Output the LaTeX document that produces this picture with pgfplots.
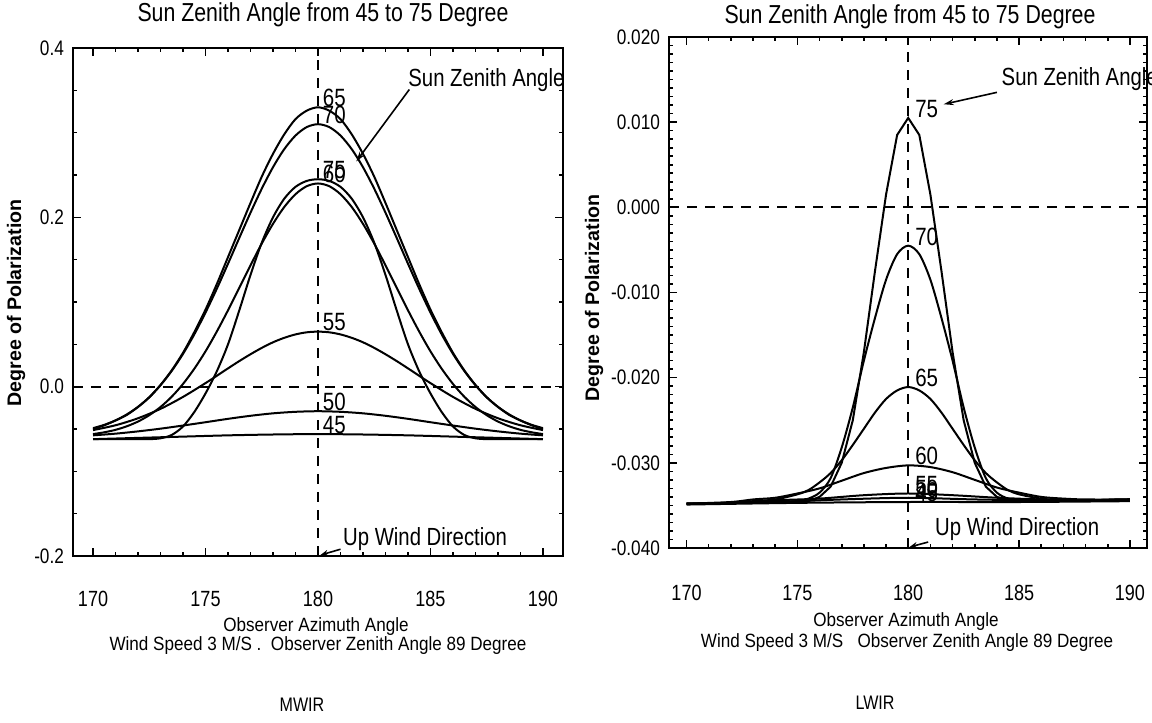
\documentclass[border=0pt]{standalone}
\usepackage{fontspec}
\setmainfont{Liberation Sans}
\newfontfamily\fN[FakeStretch=0.82]{Liberation Sans}
\newfontfamily\fL[FakeStretch=0.89]{Liberation Sans}
\usepackage{pgfplots}
\pgfplotsset{compat=1.18}
\usetikzlibrary{arrows.meta}

\pgfplotsset{
  idl/.style={
    scale only axis, clip=false, anchor=south west,
    axis line style={line width=1.1pt},
    tick align=inside,
    major tick length=4pt, minor tick length=2pt,
    tick style={black, line width=0.8pt},
    xtick={170,175,180,185,190},
    xticklabels={170,175,180,185,190},
    minor x tick num=4,
    scaled y ticks=false,
    yticklabel style={font=\fN\fontsize{10.5}{10.5}\selectfont, xshift=-1pt},
  },
}
\tikzset{
  crv/.style={black, line width=1pt, mark=none},
  vline/.style={black, line width=1pt, dash pattern=on 5pt off 4pt},
  num/.style={anchor=south west, inner sep=0pt, font=\fN\fontsize{12.5}{12.5}\selectfont},
  note/.style={inner sep=0pt, font=\fN\fontsize{12.4}{12.4}\selectfont},
  lab/.style={inner sep=0pt, font=\fL\fontsize{9.6}{9.6}\selectfont},
}

\begin{document}
\begin{tikzpicture}
\path[use as bounding box] (0,0) rectangle (576pt,361.5pt);

% ---------------- MWIR ----------------
\begin{axis}[idl,
  at={(36.5pt,83.5pt)}, width=245pt, height=254pt,
  xmin=169.11, xmax=190.89, ymin=-0.2, ymax=0.4,
  ytick={-0.2,0,0.2,0.4}, yticklabels={-0.2,0.0,0.2,0.4},
  minor y tick num=3,
  xticklabel style={font=\fN\fontsize{11}{11}\selectfont, yshift=-14pt},
]
\addplot[crv, smooth] coordinates {
 (170,-0.0500) (170.5,-0.0456) (171,-0.0400) (171.5,-0.0334) (172,-0.0240) (172.5,-0.0127)
 (173,0.0020) (173.5,0.0194) (174,0.0400) (174.5,0.0643) (175,0.0910) (175.5,0.1210)
 (176,0.1530) (176.5,0.1850) (177,0.2170) (177.5,0.2480) (178,0.2750) (178.5,0.2980)
 (179,0.3160) (179.5,0.3260) (180,0.3300)
 (180.5,0.3260) (181,0.3160) (181.5,0.2980) (182,0.2750) (182.5,0.2480) (183,0.2170)
 (183.5,0.1850) (184,0.1530) (184.5,0.1210) (185,0.0910) (185.5,0.0643) (186,0.0400)
 (186.5,0.0194) (187,0.0020) (187.5,-0.0127) (188,-0.0240) (188.5,-0.0334) (189,-0.0400)
 (189.5,-0.0456) (190,-0.0500)};
\addplot[crv, smooth] coordinates {
 (170,-0.0490) (170.5,-0.0451) (171,-0.0398) (171.5,-0.0328) (172,-0.0238) (172.5,-0.0124)
 (173,0.0017) (173.5,0.0187) (174,0.0387) (174.5,0.0617) (175,0.0875) (175.5,0.1155)
 (176,0.1452) (176.5,0.1756) (177,0.2055) (177.5,0.2338) (178,0.2592) (178.5,0.2805)
 (179,0.2966) (179.5,0.3066) (180,0.3100)
 (180.5,0.3066) (181,0.2966) (181.5,0.2805) (182,0.2592) (182.5,0.2338) (183,0.2055)
 (183.5,0.1756) (184,0.1452) (184.5,0.1155) (185,0.0875) (185.5,0.0617) (186,0.0387)
 (186.5,0.0187) (187,0.0017) (187.5,-0.0124) (188,-0.0238) (188.5,-0.0328) (189,-0.0398)
 (189.5,-0.0451) (190,-0.0490)};
\addplot[crv, smooth] coordinates {
 (170,-0.0560) (170.5,-0.0539) (171,-0.0510) (171.5,-0.0468) (172,-0.0412) (172.5,-0.0337)
 (173,-0.0240) (173.5,-0.0118) (174,0.0032) (174.5,0.0211) (175,0.0417) (175.5,0.0650)
 (176,0.0902) (176.5,0.1166) (177,0.1433) (177.5,0.1690) (178,0.1923) (178.5,0.2122)
 (179,0.2273) (179.5,0.2368) (180,0.2400)
 (180.5,0.2368) (181,0.2273) (181.5,0.2122) (182,0.1923) (182.5,0.1690) (183,0.1433)
 (183.5,0.1166) (184,0.0902) (184.5,0.0650) (185,0.0417) (185.5,0.0211) (186,0.0032)
 (186.5,-0.0118) (187,-0.0240) (187.5,-0.0337) (188,-0.0412) (188.5,-0.0468) (189,-0.0510)
 (189.5,-0.0539) (190,-0.0560)};
\addplot[crv, smooth] coordinates {
 (170,-0.0620) (172,-0.0620) (172.5,-0.0620) (173,-0.0610) (173.5,-0.0570) (174,-0.0470)
 (174.5,-0.0300) (175,-0.0080) (175.5,0.0180) (176,0.0500) (176.5,0.0900) (177,0.1320)
 (177.5,0.1700) (178,0.2000) (178.5,0.2220) (179,0.2360) (179.5,0.2430) (180,0.2450)
 (180.5,0.2430) (181,0.2360) (181.5,0.2220) (182,0.2000) (182.5,0.1700) (183,0.1320)
 (183.5,0.0900) (184,0.0500) (184.5,0.0180) (185,-0.0080) (185.5,-0.0300) (186,-0.0470)
 (186.5,-0.0570) (187,-0.0610) (187.5,-0.0620) (188,-0.0620) (190,-0.0620)};
\addplot[crv, smooth] coordinates {
 (170,-0.0513) (171,-0.0456) (172,-0.0373) (173,-0.0262) (174,-0.0121) (175,0.0042)
 (175.5,0.0128) (176,0.0216) (176.5,0.0302) (177,0.0383) (177.5,0.0458) (178,0.0524)
 (178.5,0.0577) (179,0.0617) (179.5,0.0642) (180,0.0650)
 (180.5,0.0642) (181,0.0617) (181.5,0.0577) (182,0.0524) (182.5,0.0458) (183,0.0383)
 (183.5,0.0302) (184,0.0216) (184.5,0.0128) (185,0.0042) (186,-0.0121) (187,-0.0262)
 (188,-0.0373) (189,-0.0456) (190,-0.0513)};
\addplot[crv, smooth] coordinates {
 (170,-0.0575) (171,-0.0555) (172,-0.0528) (173,-0.0496) (174,-0.0459) (175,-0.0420)
 (176,-0.0380) (177,-0.0344) (178,-0.0315) (179,-0.0297) (180,-0.0290) (181,-0.0297)
 (182,-0.0315) (183,-0.0344) (184,-0.0380) (185,-0.0420) (186,-0.0459) (187,-0.0496)
 (188,-0.0528) (189,-0.0555) (190,-0.0575)};
\addplot[crv, smooth] coordinates {
 (170,-0.0620) (172,-0.0605) (174,-0.0590) (176,-0.0575) (178,-0.0565) (180,-0.0560)
 (182,-0.0565) (184,-0.0575) (186,-0.0590) (188,-0.0605) (190,-0.0620)};

\draw[vline] (axis cs:180,-0.2) -- (axis cs:180,0.4);
\draw[vline] (axis cs:169.11,0) -- (axis cs:190.89,0);

\node[num] at (axis cs:180.2,0.330) {65};
\node[num] at (axis cs:180.2,0.310) {70};
\node[num] at (axis cs:180.2,0.245) {75};
\node[num] at (axis cs:180.2,0.240) {60};
\node[num] at (axis cs:180.2,0.065) {55};
\node[num] at (axis cs:180.2,-0.029) {50};
\node[num] at (axis cs:180.2,-0.056) {45};

\node[note, anchor=west] at (axis cs:184.0,0.362) {Sun Zenith Angle};
\draw[line width=0.8pt, -{Stealth[length=5pt,width=3pt]}] (axis cs:184.06,0.351) -- (axis cs:181.7,0.266);
\node[note, anchor=west] at (axis cs:181.1,-0.180) {Up Wind Direction};
\draw[line width=0.8pt, -{Stealth[length=4pt,width=3pt]}] (axis cs:181.0,-0.192) -- (axis cs:180.1,-0.199);
\end{axis}

% ---------------- LWIR ----------------
\begin{axis}[idl,
  at={(334.5pt,87.5pt)}, width=239pt, height=255.5pt,
  xmin=169.21, xmax=190.77, ymin=-0.04, ymax=0.02,
  ytick={-0.04,-0.03,-0.02,-0.01,0,0.01,0.02},
  yticklabels={-0.040,-0.030,-0.020,-0.010,0.000,0.010,0.020},
  minor y tick num=9,
  xticklabel style={font=\fN\fontsize{11}{11}\selectfont, yshift=-15pt},
]
\addplot[crv, sharp plot] coordinates {
 (170,-0.0348) (172,-0.0347) (174,-0.0346) (175,-0.0345) (175.5,-0.0345) (176,-0.0340)
 (176.5,-0.0328) (177,-0.0300) (177.5,-0.0250) (178,-0.0170) (178.5,-0.0075) (179,0.0015)
 (179.5,0.0085) (180,0.0105) (180.5,0.0085) (181,0.0015) (181.5,-0.0075) (182,-0.0170)
 (182.5,-0.0250) (183,-0.0300) (183.5,-0.0328) (184,-0.0340) (184.5,-0.0344) (186,-0.0345)
 (188,-0.0344) (190,-0.0343)};
\addplot[crv, smooth] coordinates {
 (170,-0.0348) (172,-0.0347) (174,-0.0346) (175,-0.0345) (175.5,-0.0342) (176,-0.0335)
 (176.5,-0.0318) (177,-0.0282) (177.5,-0.0235) (178,-0.0180) (178.5,-0.0130) (179,-0.0085)
 (179.5,-0.0055) (180,-0.0045) (180.5,-0.0055) (181,-0.0085) (181.5,-0.0130) (182,-0.0180)
 (182.5,-0.0235) (183,-0.0282) (183.5,-0.0318) (184,-0.0335) (184.5,-0.0342) (185,-0.0344)
 (186,-0.0345) (188,-0.0344) (190,-0.0343)};
\addplot[crv, smooth] coordinates {
 (170,-0.0348) (172,-0.0347) (173,-0.0345) (174,-0.0343) (175,-0.0337) (175.5,-0.0332)
 (176,-0.0323) (176.5,-0.0312) (177,-0.0297) (177.5,-0.0279) (178,-0.0260) (178.5,-0.0241)
 (179,-0.0225) (179.5,-0.0215) (180,-0.0211) (180.5,-0.0215) (181,-0.0225) (181.5,-0.0241)
 (182,-0.0260) (182.5,-0.0279) (183,-0.0297) (183.5,-0.0312) (184,-0.0323) (184.5,-0.0332)
 (185,-0.0337) (186,-0.0342) (187,-0.0344) (188,-0.0344) (190,-0.0343)};
\addplot[crv, smooth] coordinates {
 (170,-0.0348) (172,-0.0346) (173,-0.0343) (174,-0.0341) (175,-0.0336) (176,-0.0330)
 (177,-0.0321) (178,-0.0312) (179,-0.0306) (180,-0.0303) (181,-0.0305) (182,-0.0311)
 (183,-0.0320) (184,-0.0329) (185,-0.0335) (186,-0.0340) (187,-0.0342) (188,-0.0343)
 (190,-0.0343)};
\addplot[crv, smooth] coordinates {
 (170,-0.0348) (172,-0.0347) (174,-0.0344) (176,-0.0342) (178,-0.0338) (180,-0.0336)
 (182,-0.0338) (184,-0.0341) (186,-0.0343) (188,-0.0344) (190,-0.0344)};
\addplot[crv, smooth] coordinates {
 (170,-0.0348) (174,-0.0346) (177,-0.0343) (180,-0.0341) (183,-0.0343) (186,-0.0344)
 (190,-0.0344)};
\addplot[crv, smooth] coordinates {
 (170,-0.0349) (175,-0.0347) (180,-0.0346) (185,-0.0346) (190,-0.0345)};

\draw[vline] (axis cs:180,-0.04) -- (axis cs:180,0.02);
\draw[vline] (axis cs:169.21,0) -- (axis cs:190.77,0);

\node[num] at (axis cs:180.3,0.0105) {75};
\node[num] at (axis cs:180.3,-0.0045) {70};
\node[num] at (axis cs:180.3,-0.0211) {65};
\node[num] at (axis cs:180.3,-0.0303) {60};
\node[num] at (axis cs:180.3,-0.0337) {55};
\node[num] at (axis cs:180.3,-0.0342) {50};
\node[num] at (axis cs:180.3,-0.0346) {45};

\node[note, anchor=west] at (axis cs:184.2,0.0150) {Sun Zenith Angle};
\draw[line width=0.8pt, -{Stealth[length=5pt,width=3pt]}] (axis cs:184.0,0.0135) -- (axis cs:181.6,0.0121);
\node[note, anchor=west] at (axis cs:181.2,-0.0378) {Up Wind Direction};
\draw[line width=0.8pt, -{Stealth[length=4pt,width=3pt]}] (axis cs:180.9,-0.0393) -- (axis cs:180.05,-0.0399);
\end{axis}

% ---------------- outside text ----------------
\node[font=\fN\fontsize{13}{13}\selectfont] at (161.5pt,354pt) {Sun Zenith Angle from 45 to 75 Degree};
\node[font=\fN\fontsize{13}{13}\selectfont] at (455pt,353pt) {Sun Zenith Angle from 45 to 75 Degree};
\node[rotate=90, font=\bfseries\fontsize{9.8}{9.8}\selectfont] at (8pt,210pt) {Degree of Polarization};
\node[rotate=90, font=\bfseries\fontsize{9.8}{9.8}\selectfont] at (297pt,212.5pt) {Degree of Polarization};
\node[lab] at (158pt,48pt) {Observer Azimuth Angle};
\node[lab] at (159pt,38.5pt) {Wind Speed 3 M/S .\ \ Observer Zenith Angle 89 Degree};
\node[lab] at (453pt,50.5pt) {Observer Azimuth Angle};
\node[lab] at (453.5pt,40pt) {Wind Speed 3 M/S\ \ \ Observer Zenith Angle 89 Degree};
\node[font=\fN\fontsize{9.8}{9.8}\selectfont] at (151pt,9pt) {MWIR};
\node[font=\fN\fontsize{9.8}{9.8}\selectfont] at (437.5pt,10pt) {LWIR};
\end{tikzpicture}
\end{document}
